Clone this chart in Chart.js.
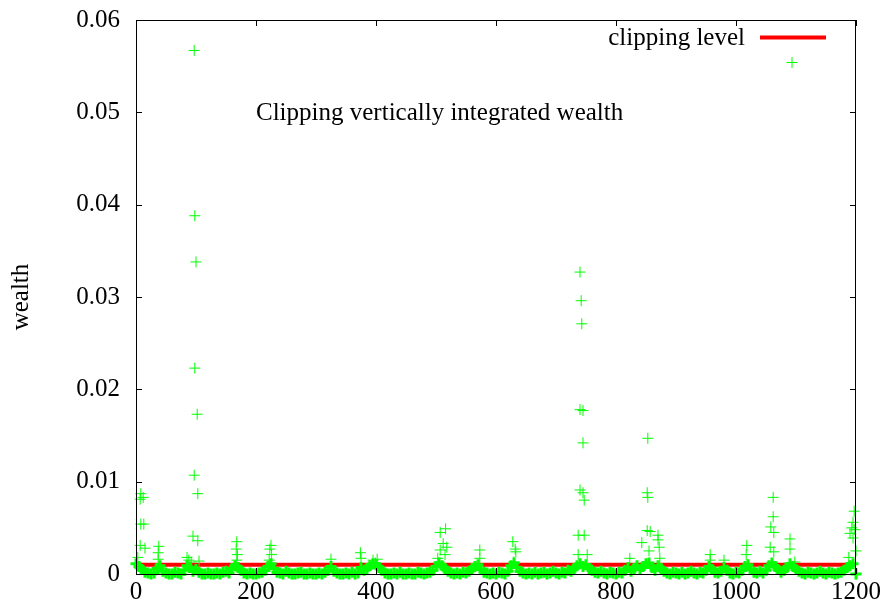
<!DOCTYPE html>
<html>
<head>
<meta charset="utf-8">
<script src="https://cdn.jsdelivr.net/npm/chart.js@4/dist/chart.umd.min.js"></script>
<style>
  html, body { margin: 0; padding: 0; background: #fff; }
  canvas { display: block; }
</style>
</head>
<body>
<canvas id="wealthChart" width="887" height="610"></canvas>
<script>
// ===== DATA =====
var xTicks = [0, 200, 400, 600, 800, 1000, 1200];
var yTicks = [0, 0.01, 0.02, 0.03, 0.04, 0.05, 0.06];
var clipLevel = 0.001;
var clipX = [0, 1200];

// baseline wealth, one value every 5 columns (x = 0, 5, 10 ... 1200)
var baseStep = 5;
var baseWealth = [
  0.0011, 0.0008, 0.0005, 0.0002, 0.0001, 0, 0.0001, 0.0006, 0.0009, 0.0003, 0.0001, 0, 0, 0.0002, 0.0001, 0, 0.0004, 0.0009, 0.0007, 0.0003,
  0.0005, 0.0002, 0, 0, 0.0001, 0, 0, 0.0001, 0, 0.0002, 0.0003, 0.0001, 0.0006, 0.0009, 0.0007, 0.0004, 0.0001, 0, 0.0001, 0,
  0, 0.0001, 0.0002, 0.0004, 0.0008, 0.0011, 0.0006, 0.0002, 0.0001, 0, 0.0003, 0.0001, 0, 0, 0.0001, 0.0002, 0, 0, 0.0001, 0,
  0, 0.0001, 0, 0.0002, 0.0004, 0.0008, 0.0003, 0.0001, 0, 0, 0.0001, 0, 0.0002, 0, 0.0001, 0.0007, 0.0004, 0.0006, 0.0009, 0.0011,
  0.0010, 0.0007, 0.0004, 0.0001, 0, 0, 0.0001, 0, 0.0002, 0, 0, 0.0001, 0, 0, 0.0002, 0.0001, 0, 0.0001, 0.0002, 0.0004,
  0.0008, 0.0012, 0.0009, 0.0006, 0.0003, 0.0001, 0, 0.0001, 0, 0.0002, 0.0001, 0.0003, 0.0006, 0.0008, 0.0010, 0.0005, 0.0002, 0.0001, 0, 0.0001,
  0, 0.0002, 0.0001, 0, 0.0003, 0.0009, 0.0012, 0.0007, 0.0003, 0.0001, 0, 0.0001, 0, 0.0002, 0, 0.0001, 0.0002, 0, 0.0001, 0.0003,
  0.0001, 0, 0.0002, 0.0001, 0.0004, 0.0003, 0.0006, 0.0009, 0.0011, 0.0008, 0.0010, 0.0006, 0.0004, 0.0002, 0.0001, 0.0003, 0.0001, 0, 0.0002, 0.0001,
  0, 0.0002, 0.0001, 0.0004, 0.0007, 0.0003, 0.0006, 0.0009, 0.0005, 0.0008, 0.0011, 0.0012, 0.0007, 0.0004, 0.0009, 0.0006, 0.0003, 0.0001, 0, 0.0002,
  0.0001, 0, 0.0002, 0, 0.0001, 0.0003, 0.0001, 0, 0.0002, 0.0001, 0.0004, 0.0008, 0.0005, 0.0002, 0.0001, 0.0003, 0.0007, 0.0004, 0.0001, 0,
  0.0002, 0.0001, 0.0004, 0.0008, 0.0010, 0.0005, 0.0002, 0.0001, 0.0003, 0.0001, 0.0004, 0.0009, 0.0012, 0.0008, 0.0005, 0.0002, 0.0004, 0.0007, 0.0011, 0.0008,
  0.0005, 0.0003, 0.0001, 0, 0.0002, 0.0001, 0, 0.0001, 0.0003, 0.0001, 0, 0.0002, 0.0001, 0, 0.0001, 0.0002, 0.0004, 0.0007, 0.0009, 0.0011,
  0
];

// columns sticking out above the band
var spikeX = [
  8, 12, 7, 8, 13, 7, 15, 3, 38, 37, 37,
  97, 98, 100, 98, 102, 97, 103, 95, 103, 85, 88, 92, 105,
  168, 167, 169, 168,
  225, 223, 226, 222,
  325, 374, 375, 395, 402, 399,
  507, 516, 512, 518, 507, 515, 503,
  573, 573,
  628, 632, 633, 630,
  740, 742, 743, 740, 745, 745, 740, 745, 747, 737, 747, 737, 752,
  823,
  853, 852, 853, 852, 857, 843, 855, 870, 870, 872, 873,
  957, 957, 980, 1018, 1017,
  1062, 1062, 1058, 1063, 1057, 1063,
  1090, 1090, 1098,
  1197, 1195, 1193, 1198, 1190, 1195, 1200, 1188, 1200
];
var spikeWealth = [
  0.0087, 0.0083, 0.0081, 0.0054, 0.0054, 0.0031, 0.0028, 0.0018, 0.0030, 0.0023, 0.0016,
  0.0567, 0.0388, 0.0338, 0.0223, 0.0173, 0.0107, 0.0087, 0.0041, 0.0036, 0.0018, 0.0015, 0.0013, 0.0014,
  0.0035, 0.0027, 0.0021, 0.0015,
  0.0031, 0.0027, 0.0021, 0.0015,
  0.0016, 0.0023, 0.0017, 0.0015, 0.0016, 0.0012,
  0.0045, 0.0049, 0.0033, 0.0029, 0.0026, 0.0021, 0.0017,
  0.0026, 0.0017,
  0.0035, 0.0027, 0.0024, 0.0013,
  0.0327, 0.0296, 0.0271, 0.0178, 0.0177, 0.0142, 0.0091, 0.0088, 0.0080, 0.0042, 0.0042, 0.0021, 0.0021,
  0.0017,
  0.0147, 0.0088, 0.0083, 0.0047, 0.0046, 0.0034, 0.0025, 0.0042, 0.0037, 0.0029, 0.0017,
  0.0021, 0.0015, 0.0015, 0.0031, 0.0021,
  0.0083, 0.0062, 0.0051, 0.0045, 0.0029, 0.0024,
  0.0038, 0.0027, 0.0013,
  0.0068, 0.0056, 0.0050, 0.0048, 0.0044, 0.0039, 0.0025, 0.0018, 0
];

var titleText = 'Clipping vertically integrated wealth';
var yAxisTitle = 'wealth';
var clipLabel = 'clipping level';

var serif = '"Liberation Serif", "Times New Roman", serif';
var GREEN = '#00ff00';
var RED = '#ff0000';

// ===== BUILD POINTS =====
var basePoints = baseWealth.map(function(v, i) { return { x: i * baseStep, y: v }; });
var spikePoints = spikeX.map(function(x, i) { return { x: x, y: spikeWealth[i] }; });
var clipPoints = clipX.map(function(x) { return { x: x, y: clipLevel }; });

// ===== PLUGIN: frame, inward ticks, label, key =====
var gnuplotFrame = {
  id: 'gnuplotFrame',
  afterDatasetsDraw: function(chart) {
    var ctx = chart.ctx;
    var a = chart.chartArea;
    var sx = chart.scales.x, sy = chart.scales.y;
    var tl = 6;
    ctx.save();
    ctx.strokeStyle = '#000';
    ctx.lineWidth = 1;
    ctx.strokeRect(a.left + 0.5, a.top + 0.5, a.right - a.left - 1, a.bottom - a.top);
    ctx.beginPath();
    xTicks.forEach(function(v) {
      var px = Math.round(sx.getPixelForValue(v)) + 0.5;
      ctx.moveTo(px, a.bottom); ctx.lineTo(px, a.bottom - tl);
      ctx.moveTo(px, a.top); ctx.lineTo(px, a.top + tl);
    });
    yTicks.forEach(function(v) {
      var py = Math.round(sy.getPixelForValue(v)) + 0.5;
      ctx.moveTo(a.left, py); ctx.lineTo(a.left + tl, py);
      ctx.moveTo(a.right, py); ctx.lineTo(a.right - tl, py);
    });
    ctx.stroke();

    // label inside plot
    ctx.fillStyle = '#000';
    ctx.font = '25px ' + serif;
    ctx.textAlign = 'left';
    ctx.textBaseline = 'alphabetic';
    ctx.fillText(titleText, 256, 120);

    // key
    ctx.textAlign = 'right';
    ctx.fillText(clipLabel, 745, 45);
    ctx.strokeStyle = RED;
    ctx.lineWidth = 4;
    ctx.beginPath();
    ctx.moveTo(760, 37.5); ctx.lineTo(826, 37.5);
    ctx.stroke();
    ctx.strokeStyle = GREEN;
    ctx.lineWidth = 1;
    ctx.beginPath();
    ctx.moveTo(786.5, 62.5); ctx.lineTo(797.5, 62.5);
    ctx.moveTo(792, 57); ctx.lineTo(792, 68);
    ctx.stroke();
    ctx.restore();
  }
};

function noPad(s) { s.paddingTop = 0; s.paddingBottom = 0; s.paddingLeft = 0; s.paddingRight = 0; }

// ===== CHART =====
new Chart(document.getElementById('wealthChart'), {
  type: 'scatter',
  data: {
    datasets: [
      {
        label: 'wealth',
        data: spikePoints,
        pointStyle: 'cross',
        pointRadius: 5.5,
        pointBorderWidth: 1,
        borderColor: GREEN,
        backgroundColor: GREEN,
        showLine: false,
        clip: false,
        order: 0
      },
      {
        label: 'wealth band',
        data: basePoints,
        pointStyle: 'cross',
        pointRadius: 5.5,
        pointBorderWidth: 3,
        borderColor: GREEN,
        backgroundColor: GREEN,
        showLine: false,
        clip: false,
        order: 1
      },
      {
        label: clipLabel,
        type: 'line',
        data: clipPoints,
        borderColor: RED,
        borderWidth: 4,
        pointRadius: 0,
        fill: false,
        order: 2
      }
    ]
  },
  options: {
    responsive: false,
    animation: false,
    layout: { padding: { top: 20, right: 31, left: 0, bottom: 0 } },
    plugins: { legend: { display: false }, tooltip: { enabled: false } },
    scales: {
      x: {
        type: 'linear',
        min: 0, max: 1200,
        grid: { display: false, drawTicks: false },
        border: { display: false },
        afterBuildTicks: function(s) { s.ticks = xTicks.map(function(v) { return { value: v }; }); },
        afterFit: function(s) { s.height = 36; noPad(s); },
        ticks: {
          color: '#000', font: { family: serif, size: 25 }, padding: 3, maxRotation: 0,
          callback: function(v) { return String(v); }
        }
      },
      y: {
        type: 'linear',
        min: 0, max: 0.06,
        grid: { display: false, drawTicks: false },
        border: { display: false },
        afterBuildTicks: function(s) { s.ticks = yTicks.map(function(v) { return { value: v }; }); },
        afterFit: function(s) { s.width = 136; noPad(s); },
        title: { display: true, text: yAxisTitle, color: '#000', font: { family: serif, size: 25 }, padding: { top: 6, bottom: 0 } },
        ticks: {
          color: '#000', font: { family: serif, size: 25 }, padding: 16,
          callback: function(v) { return String(Number(v.toFixed(2))); }
        }
      }
    }
  },
  plugins: [gnuplotFrame]
});
</script>
</body>
</html>
